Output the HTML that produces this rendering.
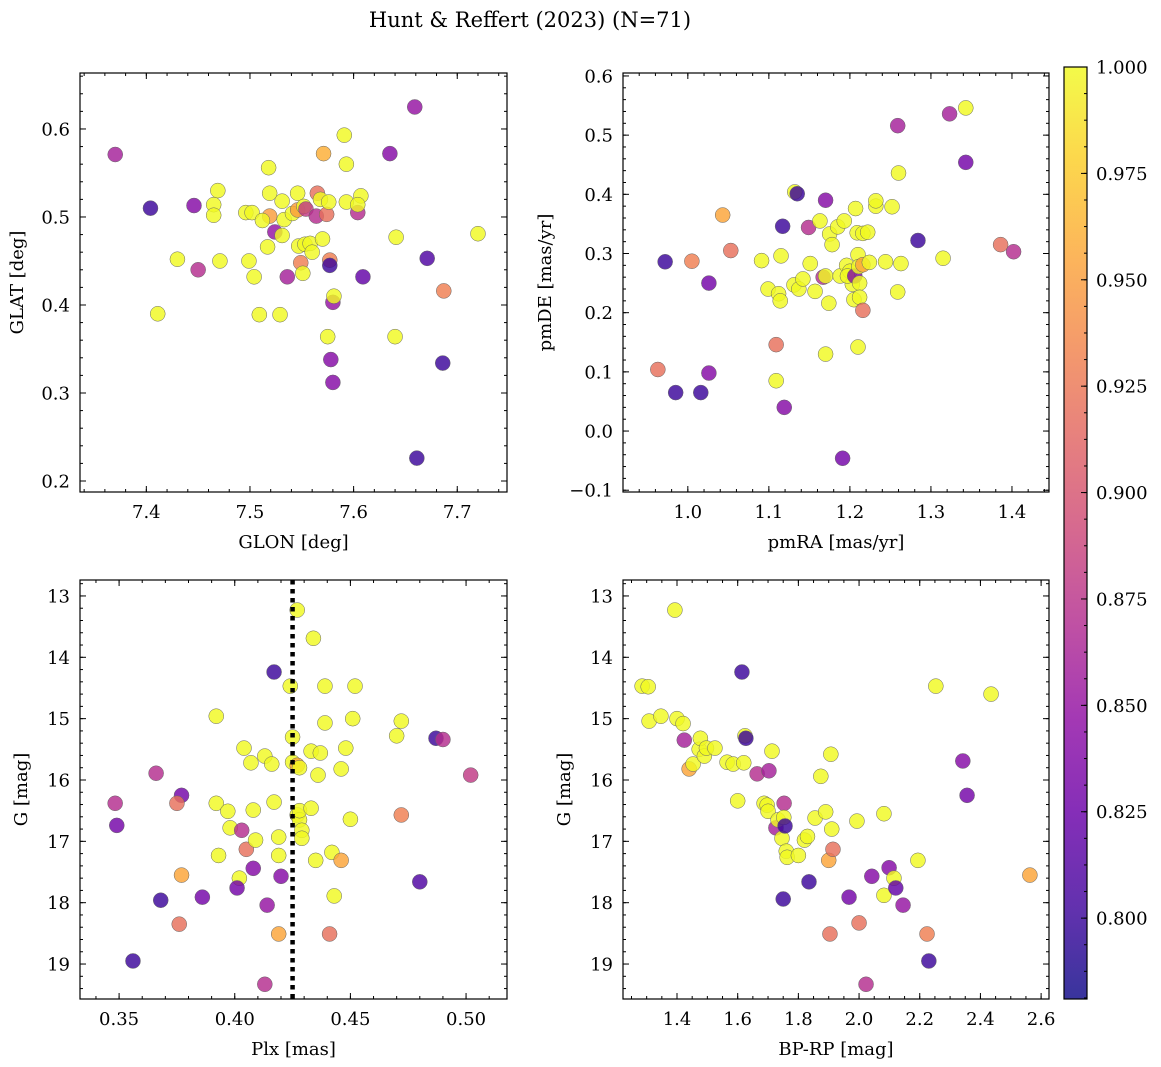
<!DOCTYPE html>
<html><head><meta charset="utf-8">
<style>
html,body{margin:0;padding:0;background:#fff;}
svg{display:block;font-family:"DejaVu Serif","Liberation Serif",serif;}
</style></head>
<body>
<svg id="fig" width="1161" height="1067" viewBox="0 0 1161 1067" xmlns="http://www.w3.org/2000/svg">
<text x="530" y="27" font-size="21" text-anchor="middle">Hunt &amp; Reffert (2023) (N=71)</text>
<defs>
<linearGradient id="cbgrad" x1="0" y1="1" x2="0" y2="0">
<stop offset="0" stop-color="#0d0887"/><stop offset="0.1" stop-color="#41049d"/><stop offset="0.2" stop-color="#6a00a8"/><stop offset="0.3" stop-color="#8f0da4"/><stop offset="0.4" stop-color="#b12a90"/><stop offset="0.5" stop-color="#cc4778"/><stop offset="0.6" stop-color="#e16462"/><stop offset="0.7" stop-color="#f2844b"/><stop offset="0.8" stop-color="#fca636"/><stop offset="0.9" stop-color="#fcce25"/><stop offset="1" stop-color="#f0f921"/>
</linearGradient>
</defs>
<g id="root"></g>
</svg>
<script>
// ---- data (each point: [x, y, membership probability]) ----
const glonGlat = [[7.370,0.571,0.86],[7.404,0.510,0.80],[7.446,0.513,0.84],[7.450,0.440,0.87],[7.430,0.452,1],[7.411,0.390,1],[7.469,0.530,1],[7.465,0.514,1],[7.465,0.502,1],[7.471,0.450,1],[7.496,0.505,1],[7.502,0.505,1],[7.499,0.450,1],[7.504,0.432,1],[7.509,0.389,1],[7.519,0.501,0.95],[7.518,0.556,1],[7.519,0.527,1],[7.512,0.496,1],[7.517,0.466,1],[7.524,0.483,0.85],[7.529,0.389,1],[7.531,0.518,1],[7.533,0.497,1],[7.531,0.479,1],[7.536,0.432,0.86],[7.541,0.504,1],[7.546,0.508,0.95],[7.546,0.527,1],[7.547,0.467,1],[7.549,0.448,0.93],[7.552,0.512,1],[7.551,0.436,1],[7.554,0.509,0.88],[7.553,0.469,1],[7.558,0.470,1],[7.560,0.460,1],[7.565,0.527,0.92],[7.564,0.501,0.87],[7.568,0.520,1],[7.570,0.475,1],[7.571,0.572,0.96],[7.574,0.503,0.92],[7.576,0.517,1],[7.577,0.451,0.93],[7.577,0.445,0.80],[7.575,0.364,1],[7.578,0.338,0.84],[7.580,0.403,0.85],[7.581,0.410,1],[7.580,0.312,0.84],[7.591,0.593,1],[7.593,0.560,1],[7.593,0.517,1],[7.604,0.505,0.87],[7.607,0.524,1],[7.604,0.514,1],[7.609,0.432,0.82],[7.635,0.572,0.84],[7.641,0.477,1],[7.640,0.364,1],[7.671,0.453,0.81],[7.686,0.334,0.80],[7.687,0.416,0.93],[7.659,0.625,0.85],[7.661,0.226,0.80],[7.720,0.481,1]];
const pmraPmde = [[0.972,0.286,0.80],[0.963,0.104,0.92],[0.985,0.065,0.80],[1.005,0.287,0.93],[1.016,0.065,0.80],[1.026,0.250,0.83],[1.026,0.098,0.84],[1.043,0.365,0.955],[1.053,0.305,0.92],[1.091,0.288,1],[1.099,0.240,1],[1.109,0.146,0.92],[1.109,0.085,1],[1.112,0.232,1],[1.114,0.220,1],[1.115,0.296,1],[1.117,0.346,0.80],[1.119,0.040,0.84],[1.131,0.247,1],[1.132,0.404,1],[1.135,0.401,0.80],[1.137,0.240,1],[1.142,0.257,1],[1.149,0.344,0.87],[1.151,0.283,1],[1.157,0.236,1],[1.163,0.355,1],[1.167,0.260,0.87],[1.170,0.390,0.84],[1.170,0.262,1],[1.170,0.130,1],[1.174,0.216,1],[1.175,0.333,1],[1.178,0.315,1],[1.185,0.345,1],[1.188,0.262,1],[1.193,0.355,1],[1.196,0.280,1],[1.200,0.270,1],[1.203,0.248,1],[1.205,0.222,1],[1.197,0.262,1],[1.191,-0.046,0.83],[1.206,0.262,0.84],[1.207,0.376,1],[1.209,0.335,1],[1.210,0.298,1],[1.210,0.142,1],[1.211,0.278,1],[1.212,0.250,1],[1.212,0.226,1],[1.216,0.334,1],[1.216,0.281,0.955],[1.216,0.204,0.92],[1.222,0.336,1],[1.224,0.285,1],[1.232,0.380,1],[1.232,0.389,1],[1.244,0.286,1],[1.252,0.379,1],[1.259,0.235,1],[1.259,0.516,0.86],[1.260,0.436,1],[1.263,0.283,1],[1.284,0.322,0.80],[1.315,0.292,1],[1.323,0.536,0.86],[1.343,0.546,1],[1.343,0.454,0.83],[1.386,0.315,0.92],[1.402,0.303,0.87]];
const plxG = [[0.3483,16.38,0.87],[0.349,16.74,0.83],[0.366,15.89,0.87],[0.368,17.96,0.80],[0.356,18.95,0.80],[0.377,16.25,0.83],[0.375,16.38,0.92],[0.377,17.55,0.955],[0.376,18.35,0.92],[0.386,17.91,0.83],[0.392,14.96,1],[0.392,16.38,1],[0.393,17.23,1],[0.397,16.51,1],[0.398,16.78,1],[0.403,16.82,0.87],[0.402,17.60,1],[0.401,17.76,0.83],[0.404,15.48,1],[0.405,17.13,0.92],[0.407,15.72,1],[0.408,16.49,1],[0.408,17.44,0.84],[0.409,16.98,1],[0.413,15.61,1],[0.414,18.04,0.85],[0.413,19.33,0.87],[0.416,15.74,1],[0.417,14.24,0.80],[0.417,16.36,1],[0.419,16.93,1],[0.419,17.23,1],[0.420,17.57,0.84],[0.419,18.51,0.955],[0.424,14.47,1],[0.425,15.30,1],[0.425,15.71,1],[0.427,13.23,1],[0.427,15.76,0.955],[0.428,15.80,1],[0.427,16.57,1],[0.428,16.65,1],[0.429,16.82,1],[0.429,16.95,1],[0.428,16.50,1],[0.433,16.46,1],[0.434,13.69,1],[0.433,15.53,1],[0.437,15.56,1],[0.436,15.92,1],[0.435,17.31,1],[0.439,14.47,1],[0.439,15.07,1],[0.442,17.18,1],[0.441,18.51,0.92],[0.443,17.89,1],[0.446,15.82,1],[0.446,17.31,0.955],[0.448,15.48,1],[0.451,15.00,1],[0.450,16.64,1],[0.452,14.47,1],[0.470,15.28,1],[0.472,15.04,1],[0.472,16.57,0.93],[0.487,15.32,0.80],[0.490,15.34,0.87],[0.480,17.66,0.81],[0.502,15.92,0.88]];
const bprpG = [[1.285,14.47,1],[1.305,14.48,1],[1.308,15.04,1],[1.347,14.96,1],[1.400,15.00,1],[1.420,15.08,1],[1.424,15.35,0.86],[1.440,15.82,0.955],[1.453,15.74,1],[1.473,15.50,1],[1.477,15.32,1],[1.490,15.61,1],[1.497,15.48,1],[1.525,15.48,1],[1.565,15.71,1],[1.585,15.74,1],[1.600,16.34,1],[1.614,14.24,0.80],[1.624,15.28,1],[1.627,15.32,0.80],[1.620,15.72,1],[1.664,15.90,0.87],[1.687,16.38,1],[1.697,16.41,1],[1.703,15.85,0.86],[1.713,15.53,1],[1.700,16.51,1],[1.726,16.78,0.86],[1.733,16.65,1],[1.746,16.95,1],[1.753,16.38,0.87],[1.752,16.61,1],[1.756,16.75,0.80],[1.750,17.94,0.80],[1.760,17.16,1],[1.763,17.26,1],[1.800,17.23,1],[1.820,16.98,1],[1.830,16.92,1],[1.835,17.66,0.80],[1.855,16.62,1],[1.874,15.94,1],[1.890,16.52,1],[1.900,17.31,0.955],[1.904,18.51,0.92],[1.914,17.13,0.92],[1.910,16.80,1],[1.907,15.58,1],[1.967,17.91,0.83],[1.993,16.67,1],[2.000,18.33,0.92],[2.023,19.33,0.87],[2.042,17.57,0.84],[2.082,16.55,1],[2.082,17.88,1],[2.099,17.43,0.84],[2.115,17.60,1],[2.121,17.76,0.82],[2.145,18.04,0.85],[2.194,17.31,1],[2.224,18.51,0.93],[2.230,18.95,0.80],[2.253,14.47,1],[2.342,15.69,0.84],[2.356,16.25,0.83],[2.435,14.60,1],[2.563,17.55,0.955],[1.393,13.23,1]];
const plxCut = [0.425];
const cbTicks = [0.800,0.825,0.850,0.875,0.900,0.925,0.950,0.975,1.000];
const cbRange = [0.781, 1.0];

// ---- helpers ----
const NS = "http://www.w3.org/2000/svg";
const root = document.getElementById('root');
function mk(tag, attrs, parent){const e=document.createElementNS(NS,tag);for(const k in attrs)e.setAttribute(k,attrs[k]);(parent||root).appendChild(e);return e;}
const stops=[[13,8,135],[65,4,157],[106,0,168],[143,13,164],[177,42,144],[204,71,120],[225,100,98],[242,132,75],[252,166,54],[252,206,37],[240,249,33]];
function plasma(t){t=Math.max(0,Math.min(1,t));const f=t*10,i=Math.min(9,Math.floor(f)),u=f-i;const a=stops[i],b=stops[i+1];return 'rgb('+a.map((v,k)=>Math.round(v+(b[k]-v)*u)).join(',')+')';}
function colorOf(p){return plasma((p-cbRange[0])/(cbRange[1]-cbRange[0]));}

function panel(cfg){
  const {L,T,R,B,xr,yr,xt,yt,xmin,ymin,xl,yl,data,fmtx,fmty,name,invY}=cfg;
  const sx=v=>L+(v-xr[0])/(xr[1]-xr[0])*(R-L);
  const sy=invY?(v=>T+(v-yr[0])/(yr[1]-yr[0])*(B-T)):(v=>B-(v-yr[0])/(yr[1]-yr[0])*(B-T));
  const g=mk('g',{});
  
  
  const pts=mk('g',{},g);
  
  
  data.forEach(d=>{
    const c=mk('circle',{cx:sx(d[0]),cy:sy(d[1]),r:7.5,fill:colorOf(d[2]),'fill-opacity':0.82,stroke:'#666','stroke-width':0.5},pts);
    
    
  });
  if(cfg.vline){cfg.vline.forEach(v=>{const l=mk('line',{x1:sx(v),x2:sx(v),y1:T,y2:B,stroke:'#000','stroke-width':4.5,'stroke-dasharray':'4.5 4.5'},g);
    
    });}
  const fr=mk('rect',{x:L,y:T,width:R-L,height:B-T,fill:'none',stroke:'#000','stroke-width':1.2},g);
  
  
  const tk=mk('g',{stroke:'#000','stroke-width':1},g);
  
  
  const inX=v=>v>=Math.min(...xr)-1e-9&&v<=Math.max(...xr)+1e-9;
  const inY=v=>v>=Math.min(...yr)-1e-9&&v<=Math.max(...yr)+1e-9;
  xmin.forEach(v=>{if(!inX(v))return;const x=sx(v);mk('line',{x1:x,x2:x,y1:B,y2:B-3},tk);mk('line',{x1:x,x2:x,y1:T,y2:T+3},tk);});
  ymin.forEach(v=>{if(!inY(v))return;const y=sy(v);mk('line',{x1:L,x2:L+3,y1:y,y2:y},tk);mk('line',{x1:R,x2:R-3,y1:y,y2:y},tk);});
  xt.forEach(v=>{const x=sx(v);mk('line',{x1:x,x2:x,y1:B,y2:B-6},tk);mk('line',{x1:x,x2:x,y1:T,y2:T+6},tk);
    const t=mk('text',{x:x,y:B+26,'font-size':18,'text-anchor':'middle'},g);t.textContent=fmtx(v);
    
    });
  yt.forEach(v=>{const y=sy(v);mk('line',{x1:L,x2:L+6,y1:y,y2:y},tk);mk('line',{x1:R,x2:R-6,y1:y,y2:y},tk);
    const t=mk('text',{x:L-10,y:y+6.5,'font-size':18,'text-anchor':'end'},g);t.textContent=fmty(v);
    
    });
  const xa=mk('text',{x:(L+R)/2,y:B+56,'font-size':18,'text-anchor':'middle'},g);xa.textContent=xl;
  
  
  const yx=L-(cfg.ylOff||58),yy=(T+B)/2;
  const ya=mk('text',{x:yx,y:yy,'font-size':18,'text-anchor':'middle',transform:'rotate(-90 '+yx+' '+yy+')'},g);ya.textContent=yl;
  
  
}
function rng(a,b,s){const o=[];for(let v=a;v<=b+1e-9;v+=s)o.push(Math.round(v*10000)/10000);return o;}
const f1=v=>v.toFixed(1),f2=v=>v.toFixed(2),f0=v=>v.toFixed(0);
const fm=v=>(v<0?'\u2212':'')+Math.abs(v).toFixed(1);

panel({name:'glon-glat-panel',L:80,T:73,R:507,B:492,xr:[7.336,7.748],yr:[0.1875,0.6636],xt:rng(7.4,7.7,0.1),yt:rng(0.2,0.6,0.1),xmin:rng(7.34,7.74,0.02),ymin:rng(0.2,0.66,0.02),xl:'GLON [deg]',yl:'GLAT [deg]',data:glonGlat,fmtx:f1,fmty:f1,ylOff:57});
panel({name:'pm-panel',L:623,T:73,R:1049,B:492,xr:[0.920,1.4457],yr:[-0.103,0.605],xt:rng(1.0,1.4,0.1),yt:rng(-0.1,0.6,0.1),xmin:rng(0.92,1.44,0.02),ymin:rng(-0.1,0.6,0.02),xl:'pmRA [mas/yr]',yl:'pmDE [mas/yr]',data:pmraPmde,fmtx:f1,fmty:fm,ylOff:72});
panel({name:'plx-g-panel',L:80,T:580,R:507,B:999,xr:[0.3331,0.5177],yr:[12.74,19.57],invY:true,xt:rng(0.35,0.5,0.05),yt:rng(13,19,1),xmin:rng(0.34,0.51,0.01),ymin:rng(12.8,19.4,0.2),xl:'Plx [mas]',yl:'G [mag]',data:plxG,fmtx:f2,fmty:f0,vline:plxCut,ylOff:53});
panel({name:'cmd-panel',L:623,T:580,R:1049,B:999,xr:[1.222,2.626],yr:[12.74,19.57],invY:true,xt:rng(1.4,2.6,0.2),yt:rng(13,19,1),xmin:rng(1.25,2.6,0.05),ymin:rng(12.8,19.4,0.2),xl:'BP-RP [mag]',yl:'G [mag]',data:bprpG,fmtx:f1,fmty:f0,ylOff:53});

// colorbar
(function(){
  const L=1064,R=1087,T=67,B=999;
  const g=mk('g',{});
  
  
  mk('rect',{x:L,y:T,width:R-L,height:B-T,fill:'url(#cbgrad)','fill-opacity':0.82},g);
  mk('rect',{x:L,y:T,width:R-L,height:B-T,fill:'none',stroke:'#000','stroke-width':1.2},g);
  const sy=v=>B-(v-cbRange[0])/(cbRange[1]-cbRange[0])*(B-T);
  for(let v=0.78125;v<=1.0001;v+=0.00625){const y=sy(v);if(y<T||y>B)continue;mk('line',{x1:R,x2:R-3,y1:y,y2:y,stroke:'#000'},g);}
  cbTicks.forEach(v=>{const y=sy(v);mk('line',{x1:R,x2:R-6,y1:y,y2:y,stroke:'#000'},g);
    const t=mk('text',{x:R+9,y:y+6.5,'font-size':18},g);t.textContent=v.toFixed(3);
    
    });
})();
</script>
</body></html>
